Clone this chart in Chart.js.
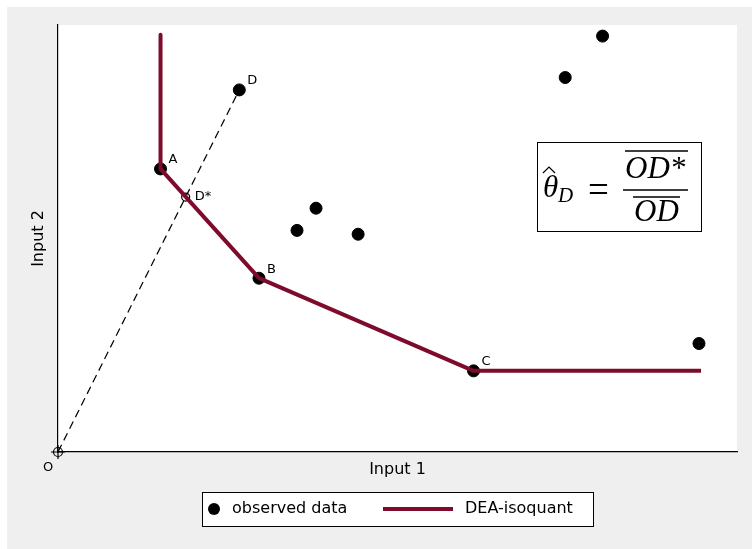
<!DOCTYPE html>
<html>
<head>
<meta charset="utf-8">
<title>DEA isoquant</title>
<script src="https://cdn.jsdelivr.net/npm/chart.js@4"></script>
<style>
  body { margin: 0; background: #fff; }
  #wrap { width: 752px; height: 549px; }
</style>
</head>
<body>
<div id="wrap"><canvas id="dea-chart" width="752" height="549"></canvas></div>
<script>
// ======== DONNÉES ========
// points observés (A, B, C, D puis les autres)
const obsNames = ['A', 'B', 'C', 'D'];
const obsX = [1.51, 2.96, 6.12, 2.67, 3.80, 3.52, 4.42, 7.47, 8.02, 9.44];
const obsY = [6.63, 4.07, 1.90, 8.48, 5.71, 5.19, 5.10, 8.77, 9.74, 2.54];

// frontière DEA (isoquant)
const isoX = [1.51, 1.51, 2.96, 6.12, 9.47];
const isoY = [9.77, 6.63, 4.07, 1.90, 1.90];

// rayon O -> D et point projeté D*
const rayX = [0, 2.67];
const rayY = [0, 8.48];
const dStarX = [1.88];
const dStarY = [5.97];

const axisTitles = ['Input 1', 'Input 2'];
const legendLabels = ['observed data', 'DEA-isoquant'];

const RED = '#7f0b2c';
const GREY = '#efefef';
const SANS = '"DejaVu Sans", sans-serif';
const SERIF = '"Liberation Serif", "DejaVu Serif", serif';

const toPts = (xs, ys) => xs.map((x, i) => ({ x: x, y: ys[i] }));

// fond gris + zone blanche du graphique
const backgroundPlugin = {
    id: 'background',
    beforeDraw(chart) {
        const { ctx, chartArea: a } = chart;
        ctx.save();
        ctx.fillStyle = '#ffffff';
        ctx.fillRect(0, 0, chart.width, chart.height);
        ctx.fillStyle = GREY;
        ctx.fillRect(7, 7, chart.width - 7, chart.height - 7);
        ctx.fillStyle = '#ffffff';
        ctx.fillRect(a.left, a.top, a.right - a.left, a.bottom - a.top);
        ctx.restore();
    }
};

// étiquettes, formule et légende
const annotationsPlugin = {
    id: 'annotations',
    afterDraw(chart) {
        const { ctx } = chart;
        const xs = chart.scales.x;
        const ys = chart.scales.y;
        ctx.save();

        // étiquettes des points
        ctx.fillStyle = '#000';
        ctx.font = '13px ' + SANS;
        ctx.textBaseline = 'middle';
        ctx.textAlign = 'left';
        obsNames.forEach((name, i) => {
            ctx.fillText(name, xs.getPixelForValue(obsX[i]) + 8, ys.getPixelForValue(obsY[i]) - 9);
        });
        ctx.fillText('D*', xs.getPixelForValue(dStarX[0]) + 9, ys.getPixelForValue(dStarY[0]));
        ctx.textAlign = 'center';
        ctx.fillText('O', xs.getPixelForValue(rayX[0]) - 10, ys.getPixelForValue(rayY[0]) + 16);

        // formule theta_D = OD* / OD
        ctx.strokeStyle = '#000';
        ctx.lineWidth = 1;
        ctx.strokeRect(537.5, 142.5, 164, 89);
        ctx.textAlign = 'left';
        ctx.textBaseline = 'alphabetic';
        ctx.font = 'italic 31px ' + SERIF;
        ctx.fillText('θ', 543, 197);
        ctx.beginPath();
        ctx.moveTo(543, 173);
        ctx.lineTo(549, 167);
        ctx.lineTo(555, 173);
        ctx.lineWidth = 1.2;
        ctx.stroke();
        ctx.font = 'italic 21px ' + SERIF;
        ctx.fillText('D', 558, 202);
        ctx.font = '37px ' + SERIF;
        ctx.fillText('=', 588, 202);
        ctx.font = 'italic 31px ' + SERIF;
        ctx.fillText('OD*', 625, 178);
        ctx.fillText('OD', 634, 221);
        ctx.lineWidth = 1.3;
        ctx.beginPath();
        ctx.moveTo(625, 151); ctx.lineTo(688, 151);
        ctx.moveTo(623, 190); ctx.lineTo(688, 190);
        ctx.moveTo(633, 197); ctx.lineTo(680, 197);
        ctx.stroke();

        // légende encadrée
        ctx.fillStyle = '#ffffff';
        ctx.fillRect(202, 492, 391, 34);
        ctx.lineWidth = 1;
        ctx.strokeRect(202.5, 492.5, 391, 34);
        ctx.fillStyle = '#000';
        ctx.beginPath();
        ctx.arc(214, 509, 6, 0, Math.PI * 2);
        ctx.fill();
        ctx.strokeStyle = RED;
        ctx.lineWidth = 4;
        ctx.beginPath();
        ctx.moveTo(383, 509); ctx.lineTo(453, 509);
        ctx.stroke();
        ctx.font = '16px ' + SANS;
        ctx.textBaseline = 'middle';
        ctx.fillText(legendLabels[0], 232, 509);
        ctx.fillText(legendLabels[1], 465, 509);

        ctx.restore();
    }
};

const config = {
    type: 'scatter',
    data: {
        datasets: [
            {
                label: legendLabels[1],
                data: toPts(isoX, isoY),
                showLine: true,
                borderColor: RED,
                borderWidth: 4,
                borderJoinStyle: 'round',
                pointRadius: 0,
                order: 0
            },
            {
                label: legendLabels[0],
                data: toPts(obsX, obsY),
                backgroundColor: '#000',
                borderColor: '#000',
                pointRadius: 6,
                order: 1
            },
            {
                label: 'ray',
                data: toPts(rayX, rayY),
                showLine: true,
                borderColor: '#000',
                borderWidth: 1.2,
                borderDash: [8, 5],
                pointRadius: 0,
                order: 2
            },
            {
                label: 'D*',
                data: toPts(dStarX, dStarY),
                backgroundColor: 'rgba(0,0,0,0)',
                borderColor: '#000',
                borderWidth: 1.2,
                pointRadius: 4,
                order: 0
            },
            {
                label: 'O',
                data: toPts([rayX[0]], [rayY[0]]),
                backgroundColor: 'rgba(0,0,0,0)',
                borderColor: '#000',
                borderWidth: 1.2,
                pointRadius: 4.5,
                order: 0
            },
            {
                label: 'O cross',
                data: toPts([rayX[0]], [rayY[0]]),
                pointStyle: 'cross',
                borderColor: '#000',
                borderWidth: 1.2,
                pointRadius: 7,
                order: 0
            }
        ]
    },
    options: {
        responsive: false,
        animation: false,
        clip: false,
        layout: { padding: { left: 29, top: 25, right: 15, bottom: 70 } },
        plugins: {
            legend: { display: false },
            tooltip: { enabled: false }
        },
        scales: {
            x: {
                type: 'linear',
                min: 0,
                max: 10,
                grid: { display: false },
                ticks: { display: false },
                border: { display: true, color: '#000', width: 1.2 },
                title: { display: true, text: axisTitles[0], color: '#000', padding: 0, font: { family: SANS, size: 16 } },
                afterFit: s => { s.height = 27; }
            },
            y: {
                type: 'linear',
                min: 0,
                max: 10,
                grid: { display: false },
                ticks: { display: false },
                border: { display: true, color: '#000', width: 1.2 },
                title: { display: true, text: axisTitles[1], color: '#000', padding: 0, font: { family: SANS, size: 16 } },
                afterFit: s => { s.width = 29; }
            }
        }
    },
    plugins: [backgroundPlugin, annotationsPlugin]
};

new Chart(document.getElementById('dea-chart'), config);
</script>
</body>
</html>
